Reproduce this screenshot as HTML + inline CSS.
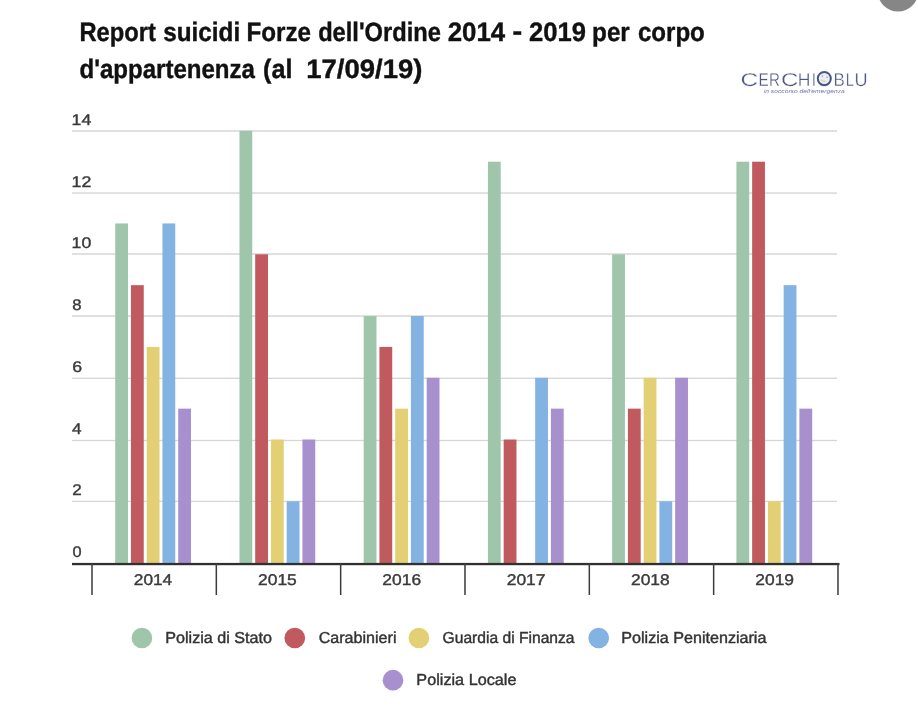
<!DOCTYPE html>
<html lang="it"><head><meta charset="utf-8"><title>Report suicidi Forze dell'Ordine</title>
<style>
html,body{margin:0;padding:0;background:#fff;}
body{width:918px;height:705px;overflow:hidden;position:relative;font-family:"Liberation Sans",sans-serif;}
svg{position:absolute;left:0;top:0;display:block}
text{font-family:"Liberation Sans",sans-serif;text-rendering:geometricPrecision}
</style></head><body>
<svg width="918" height="705" viewBox="0 0 918 705">
<rect width="918" height="705" fill="#fff"/>
<circle cx="898" cy="-8.9" r="20.4" fill="#868686"/>

<rect x="72" y="130.00" width="765" height="2.0" fill="#e0e0e0"/>
<rect x="72" y="192.10" width="765" height="2.0" fill="#e0e0e0"/>
<rect x="72" y="253.00" width="765" height="2.0" fill="#e0e0e0"/>
<rect x="72" y="315.20" width="765" height="1.8" fill="#dcdcdc"/>
<rect x="72" y="377.60" width="765" height="1.4" fill="#d8d8d8"/>
<rect x="72" y="439.85" width="765" height="1.3" fill="#d6d6d6"/>
<rect x="72" y="500.75" width="765" height="1.3" fill="#d6d6d6"/>
<rect x="115.20" y="223.43" width="12.8" height="340.57" fill="#9FC6AA"/>
<rect x="130.95" y="285.17" width="12.8" height="278.83" fill="#C05A5E"/>
<rect x="146.70" y="346.91" width="12.8" height="217.09" fill="#E4D074"/>
<rect x="162.45" y="223.43" width="12.8" height="340.57" fill="#83B3E2"/>
<rect x="178.20" y="408.65" width="12.8" height="155.35" fill="#A88FCD"/>
<rect x="239.44" y="130.82" width="12.8" height="433.18" fill="#9FC6AA"/>
<rect x="255.19" y="254.30" width="12.8" height="309.70" fill="#C05A5E"/>
<rect x="270.94" y="439.52" width="12.8" height="124.48" fill="#E4D074"/>
<rect x="286.69" y="501.26" width="12.8" height="62.74" fill="#83B3E2"/>
<rect x="302.44" y="439.52" width="12.8" height="124.48" fill="#A88FCD"/>
<rect x="363.68" y="316.04" width="12.8" height="247.96" fill="#9FC6AA"/>
<rect x="379.43" y="346.91" width="12.8" height="217.09" fill="#C05A5E"/>
<rect x="395.18" y="408.65" width="12.8" height="155.35" fill="#E4D074"/>
<rect x="410.93" y="316.04" width="12.8" height="247.96" fill="#83B3E2"/>
<rect x="426.68" y="377.78" width="12.8" height="186.22" fill="#A88FCD"/>
<rect x="487.92" y="161.69" width="12.8" height="402.31" fill="#9FC6AA"/>
<rect x="503.67" y="439.52" width="12.8" height="124.48" fill="#C05A5E"/>
<rect x="535.17" y="377.78" width="12.8" height="186.22" fill="#83B3E2"/>
<rect x="550.92" y="408.65" width="12.8" height="155.35" fill="#A88FCD"/>
<rect x="612.16" y="254.30" width="12.8" height="309.70" fill="#9FC6AA"/>
<rect x="627.91" y="408.65" width="12.8" height="155.35" fill="#C05A5E"/>
<rect x="643.66" y="377.78" width="12.8" height="186.22" fill="#E4D074"/>
<rect x="659.41" y="501.26" width="12.8" height="62.74" fill="#83B3E2"/>
<rect x="675.16" y="377.78" width="12.8" height="186.22" fill="#A88FCD"/>
<rect x="736.40" y="161.69" width="12.8" height="402.31" fill="#9FC6AA"/>
<rect x="752.15" y="161.69" width="12.8" height="402.31" fill="#C05A5E"/>
<rect x="767.90" y="501.26" width="12.8" height="62.74" fill="#E4D074"/>
<rect x="783.65" y="285.17" width="12.8" height="278.83" fill="#83B3E2"/>
<rect x="799.40" y="408.65" width="12.8" height="155.35" fill="#A88FCD"/>
<rect x="72" y="562.9" width="767.5" height="2.3" fill="#303030"/>
<rect x="91.25" y="563" width="1.5" height="32" fill="#3c3c3c"/>
<rect x="215.58" y="563" width="1.5" height="32" fill="#3c3c3c"/>
<rect x="339.91" y="563" width="1.5" height="32" fill="#3c3c3c"/>
<rect x="464.24" y="563" width="1.5" height="32" fill="#3c3c3c"/>
<rect x="588.57" y="563" width="1.5" height="32" fill="#3c3c3c"/>
<rect x="712.90" y="563" width="1.5" height="32" fill="#3c3c3c"/>
<rect x="837.23" y="563" width="1.5" height="32" fill="#3c3c3c"/>
<text style="font-weight:700;font-size:26.6px;fill:#111;stroke:#111;stroke-width:0.4px"><tspan x="79.49" y="40.5" textLength="76.44" lengthAdjust="spacingAndGlyphs">Report</tspan> <tspan x="163.22" y="40.5" textLength="76.93" lengthAdjust="spacingAndGlyphs">suicidi</tspan> <tspan x="246.56" y="40.5" textLength="64.53" lengthAdjust="spacingAndGlyphs">Forze</tspan> <tspan x="318.17" y="40.5" textLength="122.74" lengthAdjust="spacingAndGlyphs">dell'Ordine</tspan> <tspan x="447.76" y="40.5" textLength="57.42" lengthAdjust="spacingAndGlyphs">2014</tspan> <tspan x="512.60" y="39.8" textLength="9.68" lengthAdjust="spacingAndGlyphs">-</tspan> <tspan x="529.06" y="40.5" textLength="56.95" lengthAdjust="spacingAndGlyphs">2019</tspan> <tspan x="592.07" y="40.5" textLength="37.75" lengthAdjust="spacingAndGlyphs">per</tspan> <tspan x="637.90" y="40.5" textLength="66.93" lengthAdjust="spacingAndGlyphs">corpo</tspan></text>
<text style="font-weight:700;font-size:26.6px;fill:#111;stroke:#111;stroke-width:0.4px"><tspan x="79.55" y="78.1" textLength="175.38" lengthAdjust="spacingAndGlyphs">d'appartenenza</tspan> <tspan x="263.05" y="78.1" textLength="29.36" lengthAdjust="spacingAndGlyphs">(al</tspan> <tspan x="306.16" y="78.1" textLength="116.25" lengthAdjust="spacingAndGlyphs">17/09/19)</tspan></text>
<text x="72.41" y="557.0" textLength="9.06" lengthAdjust="spacingAndGlyphs" style="font-size:15.5px;fill:#3a3a3a;stroke:#3a3a3a;stroke-width:0.4px">0</text>
<text x="72.30" y="495.1" textLength="9.47" lengthAdjust="spacingAndGlyphs" style="font-size:15.5px;fill:#3a3a3a;stroke:#3a3a3a;stroke-width:0.4px">2</text>
<text x="72.05" y="434.3" textLength="9.56" lengthAdjust="spacingAndGlyphs" style="font-size:15.5px;fill:#3a3a3a;stroke:#3a3a3a;stroke-width:0.4px">4</text>
<text x="72.22" y="371.7" textLength="9.87" lengthAdjust="spacingAndGlyphs" style="font-size:15.5px;fill:#3a3a3a;stroke:#3a3a3a;stroke-width:0.4px">6</text>
<text x="72.33" y="309.7" textLength="9.27" lengthAdjust="spacingAndGlyphs" style="font-size:15.5px;fill:#3a3a3a;stroke:#3a3a3a;stroke-width:0.4px">8</text>
<text x="71.56" y="247.8" textLength="19.68" lengthAdjust="spacingAndGlyphs" style="font-size:15.5px;fill:#3a3a3a;stroke:#3a3a3a;stroke-width:0.4px">10</text>
<text x="71.56" y="187.0" textLength="19.75" lengthAdjust="spacingAndGlyphs" style="font-size:15.5px;fill:#3a3a3a;stroke:#3a3a3a;stroke-width:0.4px">12</text>
<text x="71.56" y="125.1" textLength="19.68" lengthAdjust="spacingAndGlyphs" style="font-size:15.5px;fill:#3a3a3a;stroke:#3a3a3a;stroke-width:0.4px">14</text>
<text x="133.79" y="584.8" textLength="38.46" lengthAdjust="spacingAndGlyphs" style="font-size:15.6px;fill:#3a3a3a;stroke:#3a3a3a;stroke-width:0.4px">2014</text>
<text x="258.09" y="584.8" textLength="38.72" lengthAdjust="spacingAndGlyphs" style="font-size:15.6px;fill:#3a3a3a;stroke:#3a3a3a;stroke-width:0.4px">2015</text>
<text x="382.39" y="584.8" textLength="38.75" lengthAdjust="spacingAndGlyphs" style="font-size:15.6px;fill:#3a3a3a;stroke:#3a3a3a;stroke-width:0.4px">2016</text>
<text x="506.69" y="584.8" textLength="38.80" lengthAdjust="spacingAndGlyphs" style="font-size:15.6px;fill:#3a3a3a;stroke:#3a3a3a;stroke-width:0.4px">2017</text>
<text x="630.99" y="584.8" textLength="38.77" lengthAdjust="spacingAndGlyphs" style="font-size:15.6px;fill:#3a3a3a;stroke:#3a3a3a;stroke-width:0.4px">2018</text>
<text x="755.29" y="584.8" textLength="38.78" lengthAdjust="spacingAndGlyphs" style="font-size:15.6px;fill:#3a3a3a;stroke:#3a3a3a;stroke-width:0.4px">2019</text>
<text x="165.25" y="642.5" textLength="106.64" lengthAdjust="spacingAndGlyphs" style="font-size:15.9px;fill:#333;stroke:#333;stroke-width:0.42px">Polizia di Stato</text>
<text x="318.68" y="642.5" textLength="77.82" lengthAdjust="spacingAndGlyphs" style="font-size:15.9px;fill:#333;stroke:#333;stroke-width:0.42px">Carabinieri</text>
<text x="442.61" y="642.5" textLength="131.92" lengthAdjust="spacingAndGlyphs" style="font-size:15.9px;fill:#333;stroke:#333;stroke-width:0.42px">Guardia di Finanza</text>
<text x="621.25" y="642.5" textLength="145.17" lengthAdjust="spacingAndGlyphs" style="font-size:15.9px;fill:#333;stroke:#333;stroke-width:0.42px">Polizia Penitenziaria</text>
<text x="416.34" y="685" textLength="100.12" lengthAdjust="spacingAndGlyphs" style="font-size:15.9px;fill:#333;stroke:#333;stroke-width:0.42px">Polizia Locale</text>
<circle cx="141.9" cy="638" r="10.35" fill="#9FC6AA"/>
<circle cx="294.8" cy="638" r="10.35" fill="#C05A5E"/>
<circle cx="418.9" cy="638" r="10.35" fill="#E4D074"/>
<circle cx="598.7" cy="638" r="10.35" fill="#83B3E2"/>
<circle cx="393" cy="680.2" r="10.35" fill="#A88FCD"/>
<g id="logo">
<text y="85.5" style="font-size:18.6px;fill:#4c5788;stroke:#fff;stroke-width:0.3px;paint-order:fill stroke"><tspan x="740.59" textLength="17.62" lengthAdjust="spacingAndGlyphs">C</tspan><tspan x="758.55" textLength="10.19" lengthAdjust="spacingAndGlyphs">E</tspan><tspan x="768.97" textLength="10.92" lengthAdjust="spacingAndGlyphs">R</tspan><tspan x="780.91" textLength="17.38" lengthAdjust="spacingAndGlyphs">C</tspan><tspan x="797.87" textLength="12.67" lengthAdjust="spacingAndGlyphs">H</tspan><tspan x="811.83" textLength="4.13" lengthAdjust="spacingAndGlyphs">I</tspan><tspan x="816.31" textLength="15.99" lengthAdjust="spacingAndGlyphs">O</tspan><tspan x="833.61" textLength="11.32" lengthAdjust="spacingAndGlyphs">B</tspan><tspan x="845.82" textLength="8.06" lengthAdjust="spacingAndGlyphs">L</tspan><tspan x="854.52" textLength="13.08" lengthAdjust="spacingAndGlyphs">U</tspan></text>
<circle cx="824.3" cy="78.5" r="6.5" fill="#eceef5" stroke="#4a5685" stroke-width="2"/>
<path d="M821.2 79.6q1.6 2.2 4.6 1.6" fill="none" stroke="#d4d8a8" stroke-width="1.3"/>
<circle cx="822.5" cy="76" r="0.8" fill="#9aa0b4"/><circle cx="827" cy="77.3" r="0.8" fill="#9aa0b4"/>
<text x="763.8" y="92.7" textLength="81" lengthAdjust="spacingAndGlyphs" style="font-size:5.4px;font-style:italic;fill:#6e78a8">in soccorso dell'emergenza</text>
</g>
</svg></body></html>
